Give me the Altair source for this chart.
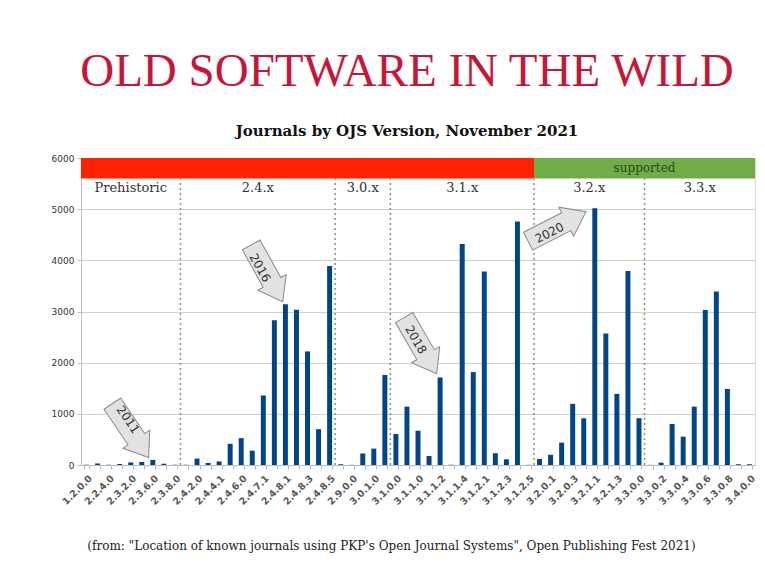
import altair as alt
import pandas as pd

versions = ["1.2.0.0","2.1.1.0","2.2.4.0","2.3.1.2","2.3.2.0","2.3.4.0","2.3.6.0","2.3.7.0","2.3.8.0","2.4.0.0",
            "2.4.2.0","2.4.3.0","2.4.4.1","2.4.5.0","2.4.6.0","2.4.7.0","2.4.7.1","2.4.8.0","2.4.8.1","2.4.8.2",
            "2.4.8.3","2.4.8.4","2.4.8.5","2.8.0.0","2.9.0.0","3.0.0.0","3.0.1.0","3.0.2.0","3.1.0.0","3.1.0.1",
            "3.1.1.0","3.1.1.1","3.1.1.2","3.1.1.3","3.1.1.4","3.1.2.0","3.1.2.1","3.1.2.2","3.1.2.3","3.1.2.4",
            "3.1.2.5","3.2.0.0","3.2.0.1","3.2.0.2","3.2.0.3","3.2.1.0","3.2.1.1","3.2.1.2","3.2.1.3","3.2.1.4",
            "3.3.0.0","3.3.0.1","3.3.0.2","3.3.0.3","3.3.0.4","3.3.0.5","3.3.0.6","3.3.0.7","3.3.0.8","3.3.0.9",
            "3.4.0.0"]
journals = [5, 30, 5, 20, 50, 60, 100, 25, 5, 5,
            125, 40, 70, 415, 525, 280, 1360, 2830, 3140, 3035,
            2220, 700, 3890, 15, 3, 225, 320, 1760, 605, 1140,
            670, 175, 1710, 5, 4320, 1815, 3780, 230, 111, 4760,
            3, 117, 200, 437, 1195, 913, 5020, 2570, 1390, 3790,
            915, 3, 46, 802, 554, 1141, 3031, 3390, 1486, 15,
            15]
labelled = versions[::2]

# version groups (in category-index units)
group_names = ["Prehistoric", "2.4.x", "3.0.x", "3.1.x", "3.2.x", "3.3.x"]
group_start = [0, 9, 23, 28, 41, 51]
group_end = [9, 23, 28, 41, 51, 61]

# support status band
status_names = ["", "supported"]
status_start = [0, 41]
status_end = [41, 61]
status_colors = ["#ff2200", "#70ad47"]

# year arrows (index units / journals units)
arrow_years = ["2011", "2016", "2018", "2020"]
arrow_x = [4.48, 16.83, 30.72, 43.08]
arrow_y = [673, 3746, 2332, 4663]
arrow_angle = [56, 61, 60, 333]
arrow_text_x = [4.25, 16.2, 30.3, 42.4]
arrow_text_y = [888, 3854, 2450, 4537]

N = len(versions)
YMAX = 6000
BAND_LOW = 5600
GROUP_LABEL_Y = 5420
STATUS_LABEL_Y = 5800

bars_df = pd.DataFrame({"version": versions, "journals": journals})
groups_df = pd.DataFrame({"name": group_names, "start": group_start, "end": group_end})
status_df = pd.DataFrame({"name": status_names, "start": status_start, "end": status_end,
                          "color": status_colors})
arrows_df = pd.DataFrame({"year": arrow_years, "x": arrow_x, "y": arrow_y, "angle": arrow_angle,
                          "tx": arrow_text_x, "ty": arrow_text_y})

label_list = "[" + ",".join("'%s'" % v for v in labelled) + "]"

yscale = alt.Scale(domain=[0, YMAX], nice=False, zero=True)
qx = alt.Scale(domain=[0, N], nice=False, zero=False)

caption = ('(from: "Location of known journals using PKP\'s Open Journal Systems", '
           'Open Publishing Fest 2021)')

bars = alt.Chart(bars_df).mark_bar(color="#004586").encode(
    x=alt.X("version:N", sort=versions,
            scale=alt.Scale(paddingInner=0.55, paddingOuter=0.275),
            axis=alt.Axis(title=caption, labelExpr="indexof(%s, datum.value) >= 0 ? datum.label : ''" % label_list,
                          labelAngle=-45, labelAlign="right", labelBaseline="top",
                          labelFont="DejaVu Sans", labelFontSize=9.5, labelColor="#555555",
                          labelFontWeight="bold", labelOverlap=False, labelPadding=4,
                          tickBand="extent", tickColor="#bbbbbb", tickSize=4,
                          domainColor="#bbbbbb",
                          titleFont="DejaVu Serif", titleFontSize=12, titleFontWeight="normal",
                          titleColor="#222222", titleX=310, titleY=80, titleBaseline="middle")),
    y=alt.Y("journals:Q", scale=yscale,
            axis=alt.Axis(title=None, values=[0, 1000, 2000, 3000, 4000, 5000, 6000], format="d",
                          labelFont="DejaVu Sans", labelFontSize=9, labelColor="#333333",
                          gridColor="#d0d0d0", domainColor="#c0c0c0", tickColor="#c0c0c0",
                          tickSize=4, labelPadding=3)),
)

status_rect = alt.Chart(status_df).mark_rect().encode(
    x=alt.X("start:Q", scale=qx, axis=None),
    x2="end:Q",
    y=alt.Y(datum=BAND_LOW, scale=yscale, axis=None),
    y2=alt.Y2(datum=YMAX),
    color=alt.Color("color:N", scale=None),
)

status_text = alt.Chart(status_df).transform_calculate(
    mid="(datum.start + datum.end) / 2"
).mark_text(font="DejaVu Serif", fontSize=12, color="#2a4a1a", baseline="middle").encode(
    x=alt.X("mid:Q", scale=qx, axis=None),
    y=alt.Y(datum=STATUS_LABEL_Y, scale=yscale, axis=None),
    text="name:N",
)

seps = alt.Chart(groups_df[groups_df.start > 0]).mark_rule(
    color="#8c8c8c", strokeDash=[2, 3], strokeWidth=1.5
).encode(
    x=alt.X("start:Q", scale=qx, axis=None),
    y=alt.Y(datum=0, scale=yscale, axis=None),
    y2=alt.Y2(datum=BAND_LOW),
)

group_text = alt.Chart(groups_df).transform_calculate(
    mid="(datum.start + datum.end) / 2"
).mark_text(font="DejaVu Serif", fontSize=13, color="#333333", baseline="middle").encode(
    x=alt.X("mid:Q", scale=qx, axis=None),
    y=alt.Y(datum=GROUP_LABEL_Y, scale=yscale, axis=None),
    text="name:N",
)

arrow_path = "M -1 -0.31 L 0.32 -0.31 L 0.32 -0.5 L 1 0 L 0.32 0.5 L 0.32 0.31 L -1 0.31 Z"
arrows = alt.Chart(arrows_df).mark_point(
    shape=arrow_path, size=4225, filled=True, fill="#e2e2e2", stroke="#8a8a8a",
    strokeWidth=1, opacity=1
).encode(
    x=alt.X("x:Q", scale=qx, axis=None),
    y=alt.Y("y:Q", scale=yscale, axis=None),
    angle=alt.Angle("angle:Q", scale=None),
)

arrow_text = alt.Chart(arrows_df).mark_text(
    font="DejaVu Sans", fontSize=12, color="#333333", baseline="middle", align="center"
).encode(
    x=alt.X("tx:Q", scale=qx, axis=None),
    y=alt.Y("ty:Q", scale=yscale, axis=None),
    angle=alt.Angle("angle:Q", scale=None),
    text="year:N",
)

chart = alt.layer(bars, status_rect, status_text, seps, group_text, arrows, arrow_text).resolve_scale(
    x="independent"
).resolve_axis(y="independent").properties(
    width=674, height=307,
    autosize=alt.AutoSizeParams(type="none"),
    padding={"left": 73, "top": 150, "right": 2, "bottom": 102},
    title=alt.Title(text="OLD SOFTWARE IN THE WILD",
                    subtitle="Journals by OJS Version, November 2021",
                    font="Liberation Serif", fontSize=47, fontWeight="normal", color="#c4173a",
                    subtitleFont="DejaVu Serif", subtitleFontSize=15, subtitleFontWeight="bold",
                    subtitleColor="#111111", subtitlePadding=28, offset=14,
                    anchor="middle", dx=-11),
).configure_view(stroke=None).configure(background="white")

chart.save("out.html", embed_options={"renderer": "svg", "actions": False})
